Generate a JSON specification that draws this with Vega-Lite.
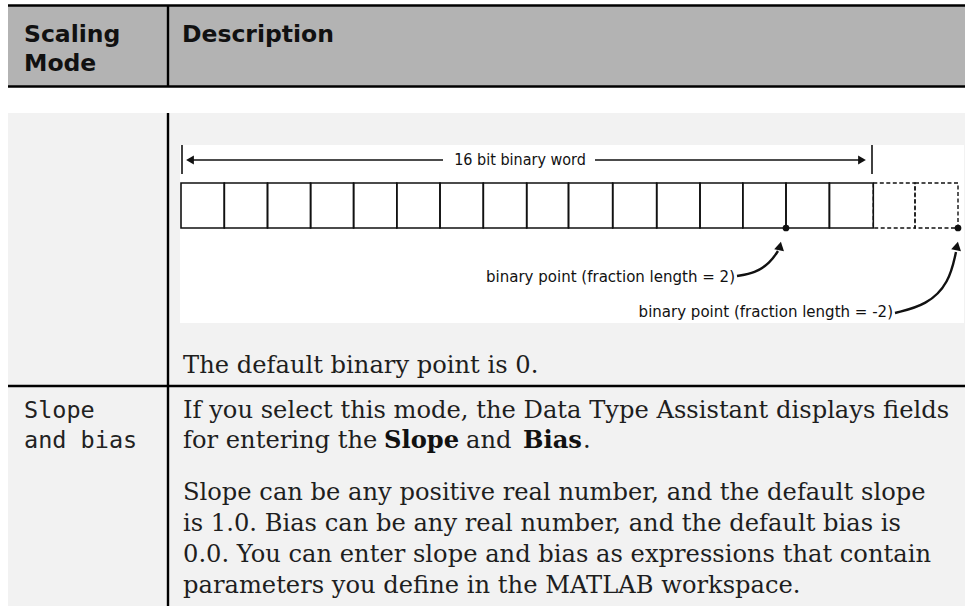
{
  "$schema": "https://vega.github.io/schema/vega-lite/v6.json",
  "width": 965,
  "height": 606,
  "autosize": {"type": "none"},
  "padding": 0,
  "background": "#ffffff",
  "config": {"view": {"stroke": null}, "axis": {"disable": true}},
  "datasets": {
    "bg": [
      {"part": "header", "x": 8, "x2": 965, "y": 6, "y2": 87},
      {"part": "body", "x": 8, "x2": 965, "y": 113, "y2": 606},
      {"part": "figure", "x": 180, "x2": 964, "y": 145, "y2": 323}
    ],
    "tableLines": [
      {"x": 8, "x2": 965, "y": 5.5, "y2": 5.5},
      {"x": 8, "x2": 965, "y": 86.5, "y2": 86.5},
      {"x": 168, "x2": 168, "y": 6, "y2": 87},
      {"x": 168, "x2": 168, "y": 113, "y2": 606},
      {"x": 8, "x2": 965, "y": 386, "y2": 386}
    ],
    "figLines": [
      {"x": 182, "x2": 182, "y": 145, "y2": 174},
      {"x": 872, "x2": 872, "y": 145, "y2": 174},
      {"x": 188, "x2": 443, "y": 160, "y2": 160},
      {"x": 595, "x2": 864, "y": 160, "y2": 160}
    ],
    "cells": [
      {"x": 181, "x2": 224.3, "y": 183, "y2": 228, "kind": "solid"},
      {"x": 224.3, "x2": 267.5, "y": 183, "y2": 228, "kind": "solid"},
      {"x": 267.5, "x2": 310.6, "y": 183, "y2": 228, "kind": "solid"},
      {"x": 310.6, "x2": 353.6, "y": 183, "y2": 228, "kind": "solid"},
      {"x": 353.6, "x2": 396.8, "y": 183, "y2": 228, "kind": "solid"},
      {"x": 396.8, "x2": 440, "y": 183, "y2": 228, "kind": "solid"},
      {"x": 440, "x2": 483.3, "y": 183, "y2": 228, "kind": "solid"},
      {"x": 483.3, "x2": 526.7, "y": 183, "y2": 228, "kind": "solid"},
      {"x": 526.7, "x2": 568.5, "y": 183, "y2": 228, "kind": "solid"},
      {"x": 568.5, "x2": 612.7, "y": 183, "y2": 228, "kind": "solid"},
      {"x": 612.7, "x2": 656.7, "y": 183, "y2": 228, "kind": "solid"},
      {"x": 656.7, "x2": 700, "y": 183, "y2": 228, "kind": "solid"},
      {"x": 700, "x2": 742.8, "y": 183, "y2": 228, "kind": "solid"},
      {"x": 742.8, "x2": 786, "y": 183, "y2": 228, "kind": "solid"},
      {"x": 786, "x2": 829.4, "y": 183, "y2": 228, "kind": "solid"},
      {"x": 829.4, "x2": 873.3, "y": 183, "y2": 228, "kind": "solid"},
      {"x": 873.3, "x2": 915, "y": 183, "y2": 228, "kind": "dashed"},
      {"x": 915, "x2": 958, "y": 183, "y2": 228, "kind": "dashed"}
    ],
    "dots": [
      {"x": 786, "y": 228},
      {"x": 958, "y": 228}
    ],
    "headsH": [
      {"x": 190, "y": 160, "dir": "left"},
      {"x": 862, "y": 160, "dir": "right"}
    ],
    "headsV": [
      {"x": 780, "y": 246},
      {"x": 957, "y": 246}
    ],
    "curves": [
      {"c": "a", "o": 1, "x": 737, "y": 276},
      {"c": "a", "o": 2, "x": 755, "y": 273},
      {"c": "a", "o": 3, "x": 770, "y": 263},
      {"c": "a", "o": 4, "x": 778, "y": 251},
      {"c": "b", "o": 1, "x": 895, "y": 313},
      {"c": "b", "o": 2, "x": 927, "y": 305},
      {"c": "b", "o": 3, "x": 949, "y": 283},
      {"c": "b", "o": 4, "x": 956, "y": 252}
    ],
    "headText": [
      {"t": "Scaling", "x": 24, "y": 42},
      {"t": "Mode", "x": 24, "y": 71},
      {"t": "Description", "x": 182, "y": 42}
    ],
    "serif": [
      {"t": "The default binary point is 0.", "x": 183, "y": 373},
      {"t": "If you select this mode, the Data Type Assistant displays fields", "x": 183, "y": 418},
      {"t": "for entering the", "x": 183, "y": 448},
      {"t": "and", "x": 466, "y": 448},
      {"t": ".", "x": 583, "y": 448},
      {"t": "Slope can be any positive real number, and the default slope", "x": 183, "y": 500},
      {"t": "is 1.0. Bias can be any real number, and the default bias is", "x": 183, "y": 531},
      {"t": "0.0. You can enter slope and bias as expressions that contain", "x": 183, "y": 562},
      {"t": "parameters you define in the MATLAB workspace.", "x": 183, "y": 593}
    ],
    "serifBold": [
      {"t": "Slope", "x": 384, "y": 448},
      {"t": "Bias", "x": 523, "y": 448}
    ],
    "mono": [
      {"t": "Slope", "x": 24, "y": 418},
      {"t": "and bias", "x": 24, "y": 448}
    ],
    "figCenter": [
      {"t": "16 bit binary word", "x": 520, "y": 160}
    ],
    "figRight": [
      {"t": "binary point (fraction length = 2)", "x": 735, "y": 277},
      {"t": "binary point (fraction length = -2)", "x": 893, "y": 312}
    ]
  },
  "encoding": {
    "x": {"field": "x", "type": "quantitative", "scale": {"domain": [0, 965], "nice": false, "zero": false}, "axis": null},
    "y": {"field": "y", "type": "quantitative", "scale": {"domain": [0, 606], "nice": false, "zero": false, "reverse": true}, "axis": null}
  },
  "layer": [
    {
      "data": {"name": "bg"},
      "mark": {"type": "rect", "strokeWidth": 0},
      "encoding": {
        "x2": {"field": "x2"},
        "y2": {"field": "y2"},
        "fill": {"field": "part", "type": "nominal", "scale": {"domain": ["header", "body", "figure"], "range": ["#b3b3b3", "#f2f2f2", "#ffffff"]}, "legend": null}
      }
    },
    {
      "data": {"name": "tableLines"},
      "mark": {"type": "rule", "color": "#000000", "strokeWidth": 2.4},
      "encoding": {"x2": {"field": "x2"}, "y2": {"field": "y2"}}
    },
    {
      "data": {"name": "cells"},
      "transform": [{"filter": "datum.kind == 'solid'"}],
      "mark": {"type": "rect", "fill": "transparent", "stroke": "#111111", "strokeWidth": 1.6},
      "encoding": {"x2": {"field": "x2"}, "y2": {"field": "y2"}}
    },
    {
      "data": {"name": "cells"},
      "transform": [{"filter": "datum.kind == 'dashed'"}],
      "mark": {"type": "rect", "fill": "transparent", "stroke": "#111111", "strokeWidth": 1.4, "strokeDash": [4, 2.5]},
      "encoding": {"x2": {"field": "x2"}, "y2": {"field": "y2"}}
    },
    {
      "data": {"name": "figLines"},
      "mark": {"type": "rule", "color": "#111111", "strokeWidth": 1.6},
      "encoding": {"x2": {"field": "x2"}, "y2": {"field": "y2"}}
    },
    {
      "data": {"name": "curves"},
      "mark": {"type": "line", "color": "#111111", "strokeWidth": 2.4, "interpolate": "basis"},
      "encoding": {"detail": {"field": "c"}, "order": {"field": "o", "type": "quantitative"}}
    },
    {
      "data": {"name": "dots"},
      "mark": {"type": "point", "filled": true, "color": "#111111", "size": 45, "opacity": 1},
      "encoding": {}
    },
    {
      "data": {"name": "headsH"},
      "mark": {"type": "point", "filled": true, "color": "#111111", "size": 80, "opacity": 1},
      "encoding": {
        "shape": {"field": "dir", "type": "nominal", "scale": {"domain": ["left", "right"], "range": ["triangle-left", "triangle-right"]}, "legend": null}
      }
    },
    {
      "data": {"name": "headsV"},
      "mark": {"type": "point", "filled": true, "color": "#111111", "size": 100, "opacity": 1, "shape": "triangle-up", "angle": 12},
      "encoding": {}
    },
    {
      "data": {"name": "headText"},
      "mark": {"type": "text", "align": "left", "baseline": "alphabetic", "font": "DejaVu Sans", "fontWeight": "bold", "fontSize": 23.5, "color": "#111111"},
      "encoding": {"text": {"field": "t"}}
    },
    {
      "data": {"name": "serif"},
      "mark": {"type": "text", "align": "left", "baseline": "alphabetic", "font": "DejaVu Serif", "fontSize": 24.2, "color": "#1e1e1e"},
      "encoding": {"text": {"field": "t"}}
    },
    {
      "data": {"name": "serifBold"},
      "mark": {"type": "text", "align": "left", "baseline": "alphabetic", "font": "DejaVu Serif", "fontWeight": "bold", "fontSize": 24.2, "color": "#111111"},
      "encoding": {"text": {"field": "t"}}
    },
    {
      "data": {"name": "mono"},
      "mark": {"type": "text", "align": "left", "baseline": "alphabetic", "font": "DejaVu Sans Mono", "fontSize": 23.5, "color": "#222222"},
      "encoding": {"text": {"field": "t"}}
    },
    {
      "data": {"name": "figCenter"},
      "mark": {"type": "text", "align": "center", "baseline": "middle", "font": "Liberation Sans Narrow, DejaVu Sans Condensed, sans-serif", "fontSize": 16, "color": "#111111"},
      "encoding": {"text": {"field": "t"}}
    },
    {
      "data": {"name": "figRight"},
      "mark": {"type": "text", "align": "right", "baseline": "middle", "font": "Liberation Sans Narrow, DejaVu Sans Condensed, sans-serif", "fontSize": 16.7, "color": "#111111"},
      "encoding": {"text": {"field": "t"}}
    }
  ]
}
